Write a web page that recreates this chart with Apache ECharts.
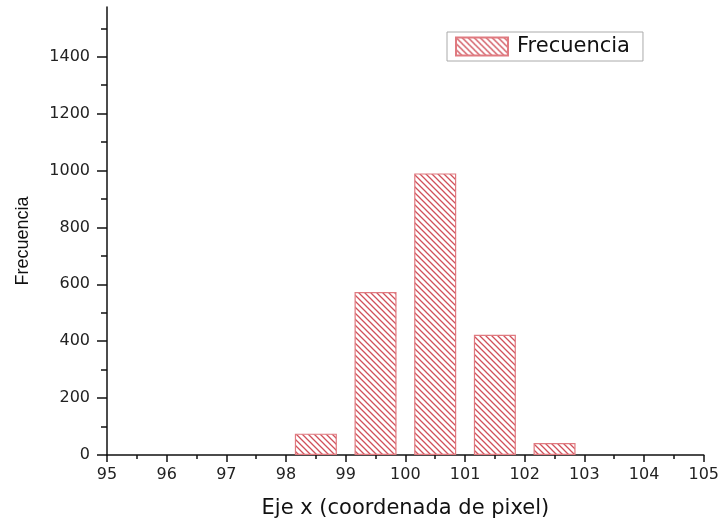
<!DOCTYPE html>
<html>
<head>
<meta charset="utf-8">
<script src="https://cdn.jsdelivr.net/npm/echarts@6/dist/echarts.min.js"></script>
<style>
  html, body { margin: 0; padding: 0; background: #fff; }
  #chart { width: 722px; height: 524px; }
</style>
</head>
<body>
<div id="chart"></div>
<script>
// histogram bins (centre of bin) and counts
const binCenters = [98.5, 99.5, 100.5, 101.5, 102.5];
const counts = [75, 573, 990, 423, 42];
const yMajorTicks = [0, 200, 400, 600, 800, 1000, 1200, 1400];
const yMinorTicks = [100, 300, 500, 700, 900, 1100, 1300, 1500];

// diagonal "\\\" hatch used for the bars and the legend swatch
const hatch = (() => {
  const s = 6;
  const c = document.createElement("canvas");
  c.width = s;
  c.height = s;
  const ctx = c.getContext("2d");
  ctx.fillStyle = "#fff";
  ctx.fillRect(0, 0, s, s);
  ctx.strokeStyle = "#d0505a";
  ctx.lineWidth = 1.3;
  ctx.beginPath();
  ctx.moveTo(-1, -1); ctx.lineTo(s + 1, s + 1);
  ctx.moveTo(-s - 1, -1); ctx.lineTo(1, s + 1);
  ctx.moveTo(s - 1, -1); ctx.lineTo(2 * s + 1, s + 1);
  ctx.stroke();
  return c;
})();

const chart = echarts.init(document.getElementById("chart"));
const wide = "DejaVu Sans";
const narrow = "Liberation Sans";
chart.setOption({
  animation: false,
  textStyle: { fontFamily: wide },
  grid: { left: 107, right: 15, top: 7, bottom: 68 },
  legend: {
    left: 447,
    top: 32,
    padding: [4, 13, 4, 8],
    borderColor: "#aaa",
    borderWidth: 1,
    itemWidth: 52,
    itemHeight: 18,
    icon: "rect",
    textStyle: { fontSize: 21, color: "#111", fontFamily: wide, padding: [0, 0, 0, 4] },
    data: ["Frecuencia"]
  },
  xAxis: {
    type: "value",
    min: 95,
    max: 105,
    interval: 1,
    name: "Eje x (coordenada de pixel)",
    nameLocation: "middle",
    nameGap: 43,
    nameTextStyle: { fontSize: 21, color: "#111", fontFamily: wide },
    splitLine: { show: false },
    axisLine: { lineStyle: { color: "#111", width: 1.5 } },
    axisTick: { inside: false, length: 7, lineStyle: { color: "#111", width: 1.5 } },
    minorTick: { show: true, splitNumber: 2, length: 4, lineStyle: { color: "#111", width: 1.5 } },
    axisLabel: { fontSize: 16, color: "#222", margin: 12, fontFamily: wide }
  },
  yAxis: [
    {
      type: "value",
      min: 0,
      max: 1575,
      position: "left",
      name: "Frecuencia",
      nameLocation: "middle",
      nameGap: 75,
      nameTextStyle: { fontSize: 18, color: "#111", fontFamily: narrow, padding: [0, 20, 0, 0] },
      splitLine: { show: false },
      axisLine: { show: true, lineStyle: { color: "#111", width: 1.5 } },
      axisTick: { show: true, length: 10, customValues: yMajorTicks, lineStyle: { color: "#111", width: 1.5 } },
      axisLabel: {
        fontSize: 16, color: "#222", margin: 17, fontFamily: wide,
        customValues: yMajorTicks,
        formatter: (v) => String(v)
      }
    },
    {
      type: "value",
      min: 0,
      max: 1575,
      position: "left",
      splitLine: { show: false },
      axisLine: { show: false },
      axisTick: { show: true, length: 6, customValues: yMinorTicks, lineStyle: { color: "#111", width: 1.5 } },
      axisLabel: { show: false }
    }
  ],
  series: [
    {
      name: "Frecuencia",
      type: "bar",
      barWidth: 42,
      itemStyle: {
        color: { image: hatch, repeat: "repeat" },
        borderColor: "#e07a80",
        borderWidth: 1.2
      },
      data: binCenters.map((x, i) => [x, counts[i]])
    }
  ]
});
</script>
</body>
</html>
